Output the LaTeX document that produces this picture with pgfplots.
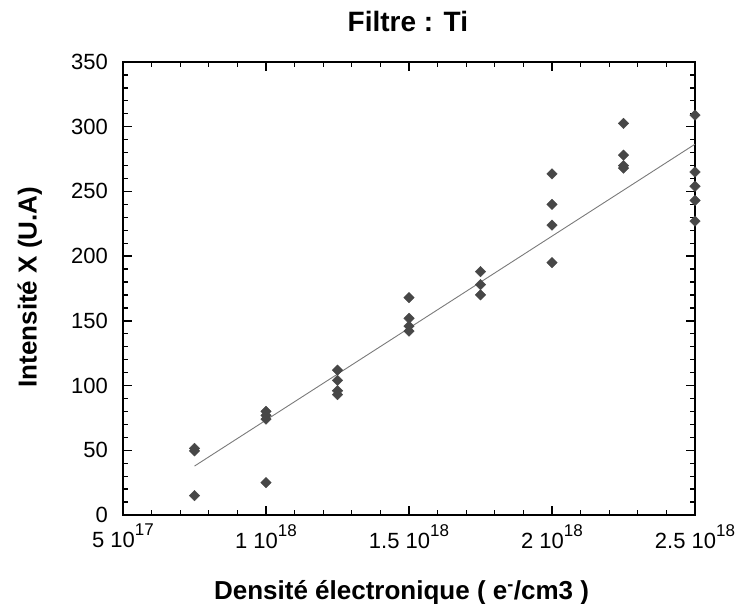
\documentclass[border=0pt]{standalone}
\usepackage{pgfplots}
\pgfplotsset{compat=1.18}
\usepackage{fontspec}
\setmainfont{Liberation Sans}
\definecolor{mk}{HTML}{474747}
\definecolor{fitc}{HTML}{7A7A7A}
\newcommand{\tl}[2]{#1 10\raisebox{12pt}{\fontsize{17}{17}\selectfont #2}}
\begin{document}
\begin{tikzpicture}
\begin{axis}[
  at={(0pt,0pt)}, anchor=south west,
  scale only axis, width=572pt, height=453pt,
  xmin=0.5, xmax=2.5, ymin=0, ymax=350,
  xtick={0.5,1,1.5,2,2.5},
  xticklabels={\tl{5}{17},\tl{1}{18},\tl{1.5}{18},\tl{2}{18},\tl{2.5}{18}},
  minor x tick num=4,
  ytick={0,50,...,350},
  minor y tick num=4,
  tick align=inside,
  xtick pos=both, ytick pos=both,
  xticklabel pos=lower, yticklabel pos=left,
  major tick length=9pt, minor tick length=5pt,
  every tick/.style={black, line width=1.3pt},
  axis line style={line width=1.6pt},
  /pgf/number format/assume math mode=true,
  tick label style={font=\fontsize{22}{26}\selectfont, inner sep=1pt},
  yticklabel style={xshift=-14pt},
  xticklabel style={yshift=-8pt},
  title={Filtre : Ti},
  title style={font=\fontsize{28}{32}\selectfont\bfseries, at={(axis description cs:0.498,1.053)}, anchor=base},
  xlabel={Densité électronique ( e\textsuperscript{-}/cm3 )},
  xlabel style={font=\fontsize{26}{30}\selectfont\bfseries, at={(axis description cs:0.487,-0.1876)}, anchor=base},
  ylabel={Intensité X (U.A)},
  ylabel style={font=\fontsize{26}{30}\selectfont\bfseries, at={(axis description cs:-0.151,0.503)}, anchor=base},
]
\addplot[fitc, line width=0.9pt] coordinates {(0.75,37.8) (2.5,286.5)};
\addplot[only marks, mark=square*, mark size=3.7pt, mark options={rotate=45, fill=mk, draw=mk}] table {
x y
0.75 51.5
0.75 49.5
0.75 15
1.0 80
1.0 77
1.0 74
1.0 25
1.25 112
1.25 104
1.25 96
1.25 93
1.5 168
1.5 152
1.5 146
1.5 142
1.75 188
1.75 178
1.75 170
2.0 263.5
2.0 240
2.0 224
2.0 195
2.25 302.5
2.25 278
2.25 270
2.25 268
2.5 309
2.5 265
2.5 254
2.5 243
2.5 227
};
\end{axis}
\pgfresetboundingbox
\path (-123pt,-89pt) rectangle (618pt,515pt);
\end{tikzpicture}
\end{document}
